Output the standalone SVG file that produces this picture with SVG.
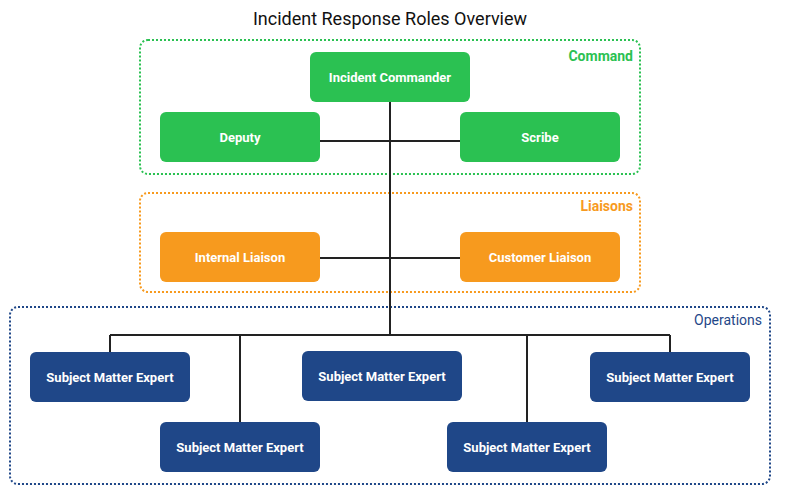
<svg xmlns="http://www.w3.org/2000/svg" width="790" height="504" viewBox="0 0 790 504">
<style>
.title{font-family:Roboto,"Liberation Sans",sans-serif;font-size:18px;fill:#111;text-anchor:middle}
.lbl{font-family:Roboto,"Liberation Sans",sans-serif;font-size:13px;font-weight:bold;fill:#fff;text-anchor:middle;dominant-baseline:central}
.cl{font-family:Roboto,"Liberation Sans",sans-serif;font-size:14px;text-anchor:end}
.g rect{fill:#2bc152}
.o rect{fill:#f79a1e}
.b rect{fill:#1f4788}
.box{fill:none;stroke-width:2;stroke-dasharray:2 2}
.conn{stroke:#222;stroke-width:2;fill:none}
</style>
<rect width="790" height="504" fill="#fff"/>
<text class="title" x="390" y="25">Incident Response Roles Overview</text>
<g id="cluster-command">
<rect class="box" x="140" y="40" width="500" height="134" rx="8" stroke="#2bc152"/>
<text class="cl" x="633" y="61" fill="#2bc152" font-weight="bold">Command</text>
</g>
<g id="cluster-liaisons">
<rect class="box" x="140" y="193" width="500" height="99" rx="8" stroke="#f79a1e"/>
<text class="cl" x="633" y="211" fill="#f79a1e" font-weight="bold">Liaisons</text>
</g>
<g id="cluster-operations">
<rect class="box" x="10" y="307" width="760" height="177" rx="8" stroke="#1f4788"/>
<text class="cl" x="762" y="325" fill="#1f4788">Operations</text>
</g>
<g id="connectors">
<path class="conn" d="M390 102V335"/>
<path class="conn" d="M320 141H460"/>
<path class="conn" d="M320 258H460"/>
<path class="conn" d="M110 335H670"/>
<path class="conn" d="M110 335V352M240 335V422M527 335V422M670 335V352"/>
</g>
<g id="ic" class="g"><rect x="310" y="52" width="160" height="50" rx="6"/><text class="lbl" x="390" y="77">Incident Commander</text></g>
<g id="deputy" class="g"><rect x="160" y="112" width="160" height="50" rx="6"/><text class="lbl" x="240" y="137">Deputy</text></g>
<g id="scribe" class="g"><rect x="460" y="112" width="160" height="50" rx="6"/><text class="lbl" x="540" y="137">Scribe</text></g>
<g id="internal" class="o"><rect x="160" y="232" width="160" height="50" rx="6"/><text class="lbl" x="240" y="257">Internal Liaison</text></g>
<g id="customer" class="o"><rect x="460" y="232" width="160" height="50" rx="6"/><text class="lbl" x="540" y="257">Customer Liaison</text></g>
<g id="sme1" class="b"><rect x="30" y="352" width="160" height="50" rx="6"/><text class="lbl" x="110" y="377">Subject Matter Expert</text></g>
<g id="sme2" class="b"><rect x="160" y="422" width="160" height="50" rx="6"/><text class="lbl" x="240" y="447">Subject Matter Expert</text></g>
<g id="sme3" class="b"><rect x="302" y="351" width="160" height="50" rx="6"/><text class="lbl" x="382" y="376">Subject Matter Expert</text></g>
<g id="sme4" class="b"><rect x="447" y="422" width="160" height="50" rx="6"/><text class="lbl" x="527" y="447">Subject Matter Expert</text></g>
<g id="sme5" class="b"><rect x="590" y="352" width="160" height="50" rx="6"/><text class="lbl" x="670" y="377">Subject Matter Expert</text></g>
</svg>
